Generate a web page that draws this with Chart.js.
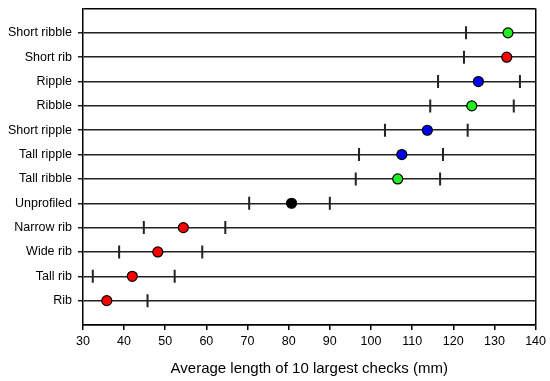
<!DOCTYPE html>
<html>
<head>
<meta charset="utf-8">
<script src="https://cdn.jsdelivr.net/npm/chart.js@4/dist/chart.umd.min.js"></script>
<style>
  html, body { margin: 0; padding: 0; background: #fff; }
  #wrap { width: 550px; height: 381px; }
</style>
</head>
<body>
<div id="wrap"><canvas id="dotChart"></canvas></div>
<script>
// categories from top to bottom
var categories = ['Short ribble', 'Short rib', 'Ripple', 'Ribble', 'Short ripple', 'Tall ripple',
  'Tall ribble', 'Unprofiled', 'Narrow rib', 'Wide rib', 'Tall rib', 'Rib'];
// mean of the 10 largest checks (mm)
var means = [133.3, 133.0, 126.1, 124.5, 113.7, 107.5, 106.5, 80.7, 54.4, 48.2, 42.0, 35.8];
// error bar ends (null = off the chart)
var lows  = [123.1, 122.6, 116.3, 114.4, 103.4, 97.1, 96.3, 70.4, 44.8, 38.8, 32.4, null];
var highs = [null, null, 136.2, 134.7, 123.5, 117.5, 116.8, 90.0, 64.6, 59.0, 52.3, 45.7];
var xTicks = [30, 40, 50, 60, 70, 80, 90, 100, 110, 120, 130, 140];

function profileColor(name) {
  var n = name.toLowerCase();
  if (n.indexOf('ribble') >= 0) return '#22ee22';
  if (n.indexOf('ripple') >= 0) return '#0000f0';
  if (n.indexOf('rib') >= 0) return '#ff0000';
  return '#000000';
}

var meanPts = [], lowPts = [], highPts = [], colors = [];
for (var i = 0; i < categories.length; i++) {
  meanPts.push({ x: means[i], y: i + 1 });
  if (lows[i] !== null) lowPts.push({ x: lows[i], y: i + 1 });
  if (highs[i] !== null) highPts.push({ x: highs[i], y: i + 1 });
  colors.push(profileColor(categories[i]));
}

var barStyle = {
  pointStyle: 'line',
  rotation: 90,
  pointRadius: 6.5,
  pointBorderWidth: 2,
  borderColor: '#222',
  backgroundColor: '#222',
  showLine: false
};

Chart.defaults.font.family = '"Liberation Sans", Arial, sans-serif';
Chart.defaults.color = '#000';

new Chart(document.getElementById('dotChart').getContext('2d'), {
  type: 'scatter',
  data: {
    datasets: [
      {
        label: 'Mean',
        data: meanPts,
        pointRadius: 5,
        pointBorderWidth: 1.2,
        pointBackgroundColor: colors,
        pointBorderColor: '#000',
        showLine: false
      },
      Object.assign({ label: 'Low', data: lowPts }, barStyle),
      Object.assign({ label: 'High', data: highPts }, barStyle)
    ]
  },
  options: {
    responsive: true,
    maintainAspectRatio: false,
    animation: false,
    layout: { padding: { left: 2, right: 13, top: 7, bottom: 3 } },
    plugins: { legend: { display: false }, tooltip: { enabled: false } },
    scales: {
      x: {
        type: 'linear',
        min: 30,
        max: 140,
        afterBuildTicks: function (axis) {
          axis.ticks = xTicks.map(function (v) { return { value: v }; });
        },
        ticks: { font: { size: 12.5 }, padding: 4, maxRotation: 0 },
        grid: {
          color: function (ctx) { return ctx.tick && ctx.tick.value === 140 ? '#000' : 'rgba(0,0,0,0)'; },
          lineWidth: 1.5,
          tickColor: '#000',
          tickLength: 5
        },
        border: { display: true, color: '#000', width: 1.5 },
        title: {
          display: true,
          text: 'Average length of 10 largest checks (mm)',
          font: { size: 15 },
          padding: { top: 7, bottom: 0 }
        }
      },
      y: {
        type: 'linear',
        min: 0,
        max: categories.length + 1,
        reverse: true,
        afterFit: function (scale) {
          scale.paddingTop = 0;
          scale.paddingBottom = 0;
        },
        ticks: {
          stepSize: 1,
          autoSkip: false,
          font: { size: 12.5 },
          padding: 6,
          callback: function (v) { return categories[v - 1] || ''; }
        },
        grid: {
          color: function (ctx) {
            var v = ctx.tick && ctx.tick.value;
            return (v === 0 || v === categories.length + 1) ? '#000' : '#222';
          },
          lineWidth: 1.5,
          tickColor: function (ctx) {
            var v = ctx.tick && ctx.tick.value;
            return (v === 0 || v === categories.length + 1) ? 'rgba(0,0,0,0)' : '#222';
          },
          tickLength: 5
        },
        border: { display: true, color: '#000', width: 1.5 }
      }
    }
  }
});
</script>
</body>
</html>
